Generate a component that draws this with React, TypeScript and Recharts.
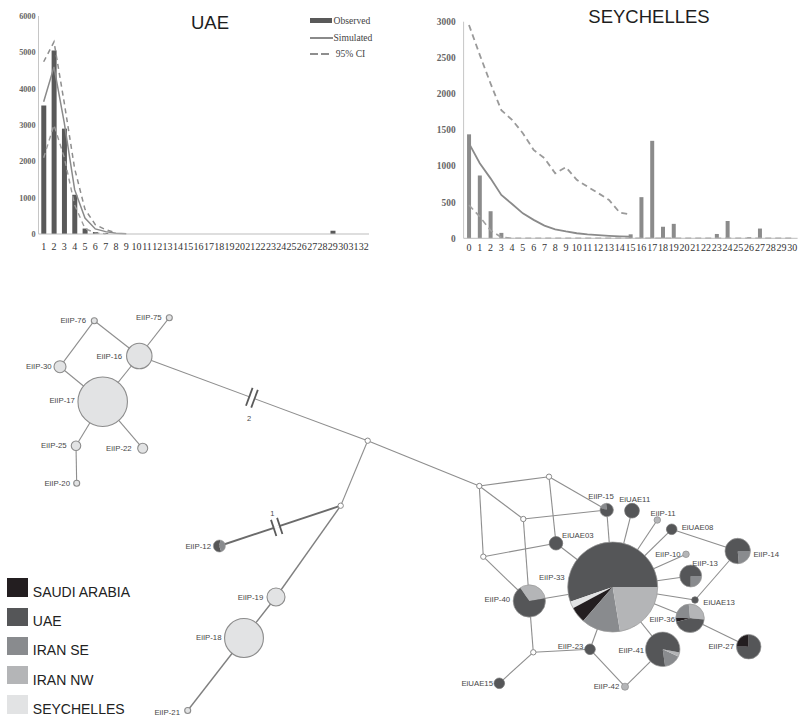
import React from 'react';
import { ComposedChart, Bar, Line, XAxis, YAxis, ScatterChart, Scatter, ZAxis, Sector } from 'recharts';

// ---------------- UAE mismatch distribution ----------------
const uaeCategories = ['1','2','3','4','5','6','7','8','9','10','11','12','13','14','15','16','17','18','19','20','21','22','23','24','25','26','27','28','29','30','31','32'];
const uaeObserved = [3540,5050,2900,1080,150,55,30,10,0,0,0,0,0,0,0,0,0,0,0,0,0,0,0,0,0,0,0,0,90,0,0,0];
const uaeSimulated = [3640,4600,3050,1220,440,140,65,20,5,null,null,null,null,null,null,null,null,null,null,null,null,null,null,null,null,null,null,null,null,null,null,null];
const uaeUpper = [4740,5290,3600,1800,680,260,120,30,null,null,null,null,null,null,null,null,null,null,null,null,null,null,null,null,null,null,null,null,null,null,null,null];
const uaeLower = [2100,3000,2100,800,150,30,5,null,null,null,null,null,null,null,null,null,null,null,null,null,null,null,null,null,null,null,null,null,null,null,null,null];
const uaeYTicks = [0,1000,2000,3000,4000,5000,6000];

// ---------------- Seychelles mismatch distribution ----------------
const seyCategories = ['0','1','2','3','4','5','6','7','8','9','10','11','12','13','14','15','16','17','18','19','20','21','22','23','24','25','26','27','28','29','30'];
const seyObserved = [1440,870,375,75,5,0,0,0,0,0,0,0,0,0,0,55,570,1350,160,200,0,0,0,60,240,0,15,135,0,0,0];
const seySimulated = [1315,1040,830,600,475,345,255,175,125,95,70,55,45,35,28,22,null,null,null,null,null,null,null,null,null,null,null,null,null,null,null];
const seyUpper = [2955,2540,2145,1775,1640,1455,1225,1110,900,985,810,715,625,530,355,330,null,null,null,null,null,null,null,null,null,null,null,null,null,null,null];
const seyLower = [460,300,110,15,0,0,0,0,0,0,0,0,0,0,0,0,0,0,0,0,0,0,0,0,0,0,0,0,0,0,0];
const seyYTicks = [0,500,1000,1500,2000,2500,3000];

// ---------------- Haplotype network ----------------
const populations = [
  { key: 'SA', name: 'SAUDI ARABIA', color: '#231e20' },
  { key: 'UAE', name: 'UAE', color: '#555658' },
  { key: 'SE', name: 'IRAN SE', color: '#898b8e' },
  { key: 'NW', name: 'IRAN NW', color: '#b4b5b7' },
  { key: 'SEY', name: 'SEYCHELLES', color: '#e2e3e4' },
];

type Hap = { id: string; x: number; y: number; n: number; start?: number; comp: [string, number][] };

// x, y: network layout coordinates; n: haplotype frequency; comp: share by population
const haplotypes: Hap[] = [
  { id: 'EiIP-76', x: 94.3, y: 320.7, n: 1, comp: [['SEY', 1]] },
  { id: 'EiIP-75', x: 169.3, y: 317.7, n: 1, comp: [['SEY', 1]] },
  { id: 'EiIP-16', x: 139.3, y: 356, n: 18, comp: [['SEY', 1]] },
  { id: 'EiIP-30', x: 60, y: 366.7, n: 4, comp: [['SEY', 1]] },
  { id: 'EiIP-17', x: 102.7, y: 401.7, n: 68, comp: [['SEY', 1]] },
  { id: 'EiIP-25', x: 76, y: 445.7, n: 2.5, comp: [['SEY', 1]] },
  { id: 'EiIP-22', x: 142.7, y: 448.3, n: 2.8, comp: [['SEY', 1]] },
  { id: 'EiIP-20', x: 76.7, y: 483.3, n: 1, comp: [['SEY', 1]] },
  { id: 'EiIP-19', x: 276, y: 597, n: 9, comp: [['SEY', 1]] },
  { id: 'EiIP-18', x: 244, y: 638, n: 42, comp: [['SEY', 1]] },
  { id: 'EiIP-21', x: 187.7, y: 710.5, n: 1, comp: [['SEY', 1]] },
  { id: 'mv1', x: 367.7, y: 440.7, n: 0.8, comp: [] },
  { id: 'mv2', x: 340.7, y: 505.7, n: 0.8, comp: [] },
  { id: 'mv3', x: 479.3, y: 486, n: 0.8, comp: [] },
  { id: 'mv4', x: 549, y: 476.7, n: 0.8, comp: [] },
  { id: 'mv5', x: 523.3, y: 519, n: 0.8, comp: [] },
  { id: 'mv6', x: 483.3, y: 556.7, n: 0.8, comp: [] },
  { id: 'mv7', x: 533.3, y: 652.3, n: 0.8, comp: [] },
  { id: 'EiIP-12', x: 219.3, y: 546, n: 4, start: 80, comp: [['UAE', 58], ['SE', 42]] },
  { id: 'EiIP-15', x: 606.7, y: 510, n: 5, start: 95, comp: [['SE', 18], ['UAE', 82]] },
  { id: 'EiUAE11', x: 632, y: 510.7, n: 6, comp: [['UAE', 1]] },
  { id: 'EiIP-11', x: 657.3, y: 520, n: 1.2, comp: [['NW', 1]] },
  { id: 'EiUAE08', x: 671.7, y: 529.3, n: 3.1, comp: [['UAE', 1]] },
  { id: 'EiUAE03', x: 556, y: 543.3, n: 5, comp: [['UAE', 1]] },
  { id: 'EiIP-10', x: 686, y: 554.3, n: 1.2, comp: [['NW', 1]] },
  { id: 'EiIP-14', x: 737.7, y: 551, n: 18, start: 275, comp: [['SE', 23.6], ['UAE', 76.4]] },
  { id: 'EiIP-13', x: 690.7, y: 576, n: 13.4, start: 270, comp: [['SE', 25], ['UAE', 75]] },
  { id: 'EiIP-33', x: 612.7, y: 587, n: 225, start: 0, comp: [['UAE', 55.3], ['SEY', 2.5], ['SA', 5.8], ['SE', 14], ['NW', 22.4]] },
  { id: 'EiIP-40', x: 529.3, y: 601, n: 29, start: 10, comp: [['NW', 31.7], ['UAE', 68.3]] },
  { id: 'EiUAE13', x: 695, y: 600, n: 1.2, comp: [['UAE', 1]] },
  { id: 'EiIP-36', x: 690, y: 618.3, n: 22.7, start: -5, comp: [['NW', 27.8], ['SE', 23], ['SA', 4.7], ['UAE', 44.5]] },
  { id: 'EiIP-27', x: 748.7, y: 646.7, n: 16.8, start: 90, comp: [['SA', 25], ['UAE', 75]] },
  { id: 'EiIP-23', x: 590, y: 649.3, n: 3.1, comp: [['UAE', 1]] },
  { id: 'EiIP-41', x: 662.7, y: 649.3, n: 33, start: 278, comp: [['SE', 15.8], ['NW', 3.9], ['UAE', 80.3]] },
  { id: 'EiUAE15', x: 499.3, y: 683.3, n: 3.1, comp: [['UAE', 1]] },
  { id: 'EiIP-42', x: 625, y: 686.7, n: 1.4, comp: [['NW', 1]] },
];

const links: [string, string][] = [
  ['EiIP-76', 'EiIP-30'], ['EiIP-76', 'EiIP-16'], ['EiIP-75', 'EiIP-16'], ['EiIP-16', 'EiIP-17'],
  ['EiIP-30', 'EiIP-17'], ['EiIP-17', 'EiIP-25'], ['EiIP-25', 'EiIP-20'], ['EiIP-17', 'EiIP-22'],
  ['EiIP-16', 'mv1'], ['mv1', 'mv3'], ['mv1', 'mv2'], ['mv2', 'EiIP-12'], ['mv2', 'EiIP-19'],
  ['EiIP-19', 'EiIP-18'], ['EiIP-18', 'EiIP-21'], ['mv3', 'mv4'], ['mv3', 'mv5'], ['mv3', 'mv6'],
  ['mv4', 'EiIP-15'], ['mv5', 'EiIP-15'], ['mv4', 'EiUAE03'], ['mv6', 'EiUAE03'], ['mv5', 'EiIP-40'],
  ['mv6', 'EiIP-40'], ['EiIP-40', 'EiIP-33'], ['EiIP-40', 'mv7'], ['mv7', 'EiUAE15'], ['mv7', 'EiIP-23'],
  ['EiIP-23', 'EiIP-33'], ['EiIP-23', 'EiIP-42'], ['EiIP-42', 'EiIP-41'], ['EiIP-41', 'EiIP-33'],
  ['EiIP-15', 'EiIP-33'], ['EiUAE11', 'EiIP-33'], ['EiIP-11', 'EiIP-33'], ['EiUAE08', 'EiIP-33'],
  ['EiUAE08', 'EiIP-14'], ['EiIP-10', 'EiIP-33'], ['EiIP-13', 'EiIP-33'], ['EiUAE13', 'EiIP-33'],
  ['EiUAE13', 'EiIP-14'], ['EiIP-36', 'EiIP-33'], ['EiIP-36', 'EiIP-27'], ['EiUAE03', 'EiIP-33'],
];

// mutation steps shown as breaks on long links
const mutationBreaks = [
  { link: ['EiIP-16', 'mv1'], t: 0.493, steps: '2' },
  { link: ['mv2', 'EiIP-12'], t: 0.527, steps: '1' },
];

// ---------------- layout / style (not data) ----------------
const labelPlacement: Record<string, [string, number, number]> = {
  'EiIP-76': ['l', -2.3, 0], 'EiIP-75': ['l', -1.6, 0], 'EiIP-16': ['l', -1.5, 0], 'EiIP-30': ['l', 0.7, 0],
  'EiIP-17': ['l', 0, -1.5], 'EiIP-25': ['l', -1.6, 0], 'EiIP-22': ['l', -3, 0], 'EiIP-20': ['l', -0.7, 0],
  'EiIP-12': ['l', 0.7, 0], 'EiIP-19': ['l', -0.7, 0], 'EiIP-18': ['l', 0, -1], 'EiIP-21': ['l', -1.7, 2],
  'EiIP-40': ['l', 0, -2], 'EiIP-33': ['l', 0, -10], 'EiUAE15': ['l', 2, 0], 'EiIP-42': ['l', 0.8, 0],
  'EiIP-41': ['l', 1.6, 0.7], 'EiIP-23': ['l', 1.6, -2.6], 'EiIP-36': ['l', 2.3, 1], 'EiIP-27': ['l', 0.6, -0.7],
  'EiIP-10': ['l', 1, 0], 'EiUAE08': ['r', 1.7, -2], 'EiIP-14': ['r', 0, 3], 'EiUAE13': ['r', 2, 2.3],
  'EiIP-15': ['t', -5.7, -4], 'EiUAE11': ['t', 2.7, -1], 'EiIP-11': ['t', 5.7, 0],
  'EiIP-13': ['tr', 1.6, 1.3], 'EiUAE03': ['tr', 6, 2.4],
};

const serif = "'Liberation Serif', 'DejaVu Serif', serif";
const sans = "'Liberation Sans', Arial, Helvetica, sans-serif";
const popColor: Record<string, string> = Object.fromEntries(populations.map((p) => [p.key, p.color]));

const uaeData = uaeCategories.map((c, i) => ({ cat: c, observed: uaeObserved[i], simulated: uaeSimulated[i], upper: uaeUpper[i], lower: uaeLower[i] }));
const seyData = seyCategories.map((c, i) => ({ cat: c, observed: seyObserved[i], simulated: seySimulated[i], upper: seyUpper[i], lower: seyLower[i] }));

const hapById: Record<string, Hap> = Object.fromEntries(haplotypes.map((h) => [h.id, h]));

function linkStyle(a: string, b: string) {
  if (a === 'mv2' && b === 'EiIP-12') return { stroke: '#6b6b6b', strokeWidth: 1.9 };
  if ((a === 'mv2' && b === 'EiIP-19') || (a === 'EiIP-19' && b === 'EiIP-18') || (a === 'EiIP-18' && b === 'EiIP-21'))
    return { stroke: '#808080', strokeWidth: 1.4 };
  return { stroke: '#8e8e8e', strokeWidth: 1.1 };
}

const breakData = mutationBreaks.map((m) => {
  const a = hapById[m.link[0]];
  const b = hapById[m.link[1]];
  const dx = b.x - a.x;
  const dy = b.y - a.y;
  const len = Math.sqrt(dx * dx + dy * dy);
  return { x: a.x + dx * m.t, y: a.y + dy * m.t, ux: dx / len, uy: dy / len, steps: m.steps };
});

function NodeShape(props: any) {
  const { cx, cy, payload } = props;
  if (cx == null || cy == null || !payload) return <g />;
  const size = typeof props.size === 'number' && isFinite(props.size) ? props.size : 64;
  const r = Math.sqrt(Math.max(size, 0) / Math.PI);
  const comp: [string, number][] = payload.comp || [];
  let body: React.ReactNode;
  if (comp.length === 0) {
    body = <circle cx={cx} cy={cy} r={r} fill="#ffffff" stroke="#8a8a8a" strokeWidth={1} />;
  } else if (comp.length === 1) {
    const k = comp[0][0];
    const stroke = k === 'SEY' ? '#8c8c8c' : k === 'NW' ? '#8c8c8c' : '#6e6e6e';
    body = <circle cx={cx} cy={cy} r={r} fill={popColor[k]} stroke={stroke} strokeWidth={k === 'SEY' ? 1.1 : 0.7} />;
  } else {
    const total = comp.reduce((s, c) => s + c[1], 0);
    let a = payload.start || 0;
    body = (
      <g>
        {comp.map(([k, v], i) => {
          const s = a;
          const e = a + (v / total) * 360;
          a = e;
          return <Sector key={i} cx={cx} cy={cy} innerRadius={0} outerRadius={r} startAngle={s} endAngle={e} fill={popColor[k]} stroke="none" />;
        })}
        <circle cx={cx} cy={cy} r={r} fill="none" stroke="#9a9a9a" strokeWidth={0.7} />
      </g>
    );
  }
  const place = labelPlacement[payload.id];
  let label: React.ReactNode = null;
  if (place) {
    const [side, ldx, ldy] = place;
    let x = cx, y = cy, anchor: any = 'middle';
    if (side === 'l') { x = cx - r - 3 + ldx; y = cy + ldy; anchor = 'end'; }
    else if (side === 'r') { x = cx + r + 3 + ldx; y = cy + ldy; anchor = 'start'; }
    else if (side === 't') { x = cx + ldx; y = cy - r - 3 + ldy; anchor = 'middle'; }
    else { x = cx + ldx; y = cy - r - 3 + ldy; anchor = 'start'; }
    label = (
      <text x={x} y={y} textAnchor={anchor} dominantBaseline="central" fontSize={7.8} fontFamily={sans} fill="#474747">
        {payload.id}
      </text>
    );
  }
  return <g>{body}{label}</g>;
}

function BreakShape(props: any) {
  const { cx, cy, payload } = props;
  if (cx == null || !payload) return <g />;
  const { ux, uy, steps } = payload;
  const nx = -uy, ny = ux;
  const half = steps === '2' ? 9.5 : 8.5;
  const sep = steps === '2' ? 2.8 : 3.2;
  const marks = [-1, 1].map((s) => {
    const mx = cx + ux * sep * s;
    const my = cy + uy * sep * s;
    return <line key={s} x1={mx - nx * half} y1={my - ny * half} x2={mx + nx * half} y2={my + ny * half} stroke="#5a5a5a" strokeWidth={1.8} />;
  });
  const lx = steps === '2' ? cx - 2.7 : cx - 4.4;
  const ly = steps === '2' ? cy + 20.3 : cy - 13.5;
  return (
    <g>
      <line x1={cx - ux * sep} y1={cy - uy * sep} x2={cx + ux * sep} y2={cy + uy * sep} stroke="#ffffff" strokeWidth={2.5} />
      {marks}
      <text x={lx} y={ly} textAnchor="middle" dominantBaseline="central" fontSize={7.5} fontFamily={sans} fill="#4a4a4a">{steps}</text>
    </g>
  );
}

const emptyShape = () => <g />;

export default function App() {
  const tickX = { fontSize: 10, fill: '#333', fontFamily: serif };
  return (
    <div style={{ position: 'absolute', left: 0, top: 0, width: 802, height: 719, background: '#fff', overflow: 'hidden' }}>
      {/* UAE chart */}
      <div style={{ position: 'absolute', left: 0, top: 0 }}>
        <ComposedChart width={400} height={260} data={uaeData} margin={{ top: 16, right: 31, bottom: 6, left: 0 }} barCategoryGap="27%">
          <XAxis dataKey="cat" interval={0} tickLine={false} tickSize={0} tickMargin={9} height={20} axisLine={{ stroke: '#bdbdbd' }} tick={tickX} />
          <YAxis type="number" domain={[0, 6000]} ticks={uaeYTicks} width={38.5} tickLine={false} tickSize={0} tickMargin={3} axisLine={{ stroke: '#c6c6c6' }} tick={{ fontSize: 8.2, fill: '#666', fontFamily: serif, fontWeight: 700 }} />
          <Bar dataKey="observed" fill="#595959" isAnimationActive={false} />
          <Line dataKey="lower" stroke="#9c9c9c" strokeWidth={1.4} strokeDasharray="5 4" dot={false} isAnimationActive={false} />
          <Line dataKey="upper" stroke="#8e8e8e" strokeWidth={1.5} strokeDasharray="5 4" dot={false} isAnimationActive={false} />
          <Line dataKey="simulated" stroke="#8a8a8a" strokeWidth={1.5} dot={false} isAnimationActive={false} />
        </ComposedChart>
      </div>
      <div style={{ position: 'absolute', left: 160, width: 100, top: 13.5, textAlign: 'center', fontFamily: sans, fontSize: 18.5, lineHeight: '18.5px', color: '#1e1e1e' }}>UAE</div>
      {/* UAE legend */}
      <div style={{ position: 'absolute', left: 310, top: 17.5, width: 22, height: 5, background: '#595959' }} />
      <div style={{ position: 'absolute', left: 310, top: 37, width: 23, height: 1.5, background: '#8a8a8a' }} />
      <div style={{ position: 'absolute', left: 310, top: 53.3, width: 8, height: 1.5, background: '#8e8e8e' }} />
      <div style={{ position: 'absolute', left: 321, top: 53.3, width: 8, height: 1.5, background: '#8e8e8e' }} />
      <div style={{ position: 'absolute', left: 333.5, top: 15.6, fontFamily: serif, fontSize: 9.6, lineHeight: '9.6px', color: '#444', whiteSpace: 'nowrap' }}>Observed</div>
      <div style={{ position: 'absolute', left: 333.5, top: 32.6, fontFamily: serif, fontSize: 9.6, lineHeight: '9.6px', color: '#444', whiteSpace: 'nowrap' }}>Simulated</div>
      <div style={{ position: 'absolute', left: 335.7, top: 49.2, fontFamily: serif, fontSize: 9.6, lineHeight: '9.6px', color: '#444', whiteSpace: 'nowrap' }}>95% CI</div>

      {/* Seychelles chart */}
      <div style={{ position: 'absolute', left: 400, top: 0 }}>
        <ComposedChart width={402} height={260} data={seyData} margin={{ top: 21.7, right: 4.4, bottom: 5.7, left: 0 }} barCategoryGap="32%">
          <XAxis dataKey="cat" interval={0} tickLine={false} tickSize={0} tickMargin={6} height={16} axisLine={{ stroke: '#bdbdbd' }} tick={tickX} />
          <YAxis type="number" domain={[0, 3000]} ticks={seyYTicks} width={63.6} tickLine={false} tickSize={0} tickMargin={8} axisLine={{ stroke: '#c6c6c6' }} tick={{ fontSize: 9.4, fill: '#666', fontFamily: serif, fontWeight: 700 }} />
          <Bar dataKey="observed" fill="#8b8b8b" isAnimationActive={false} />
          <Line dataKey="lower" stroke="#a0a0a0" strokeWidth={1.6} strokeDasharray="6 4" dot={false} isAnimationActive={false} />
          <Line dataKey="upper" stroke="#9a9a9a" strokeWidth={1.8} strokeDasharray="6 4" dot={false} isAnimationActive={false} />
          <Line dataKey="simulated" stroke="#8a8a8a" strokeWidth={1.8} dot={false} isAnimationActive={false} />
        </ComposedChart>
      </div>
      <div style={{ position: 'absolute', left: 549, width: 200, top: 8, textAlign: 'center', fontFamily: sans, fontSize: 18.5, lineHeight: '18.5px', color: '#1e1e1e' }}>SEYCHELLES</div>

      {/* Haplotype network */}
      <div style={{ position: 'absolute', left: 0, top: 0 }}>
        <ScatterChart width={802} height={719} margin={{ top: 0, right: 0, bottom: 0, left: 0 }}>
          <XAxis type="number" dataKey="x" domain={[0, 802]} allowDataOverflow hide />
          <YAxis type="number" dataKey="y" domain={[0, 719]} allowDataOverflow reversed hide />
          <ZAxis type="number" dataKey="n" domain={[0, 225]} range={[0, Math.PI * 45 * 45]} />
          {links.map(([a, b], i) => (
            <Scatter
              key={'l' + i}
              data={[{ x: hapById[a].x, y: hapById[a].y }, { x: hapById[b].x, y: hapById[b].y }]}
              line={linkStyle(a, b)}
              shape={emptyShape}
              isAnimationActive={false}
            />
          ))}
          <Scatter data={breakData} shape={(p: any) => <BreakShape {...p} />} isAnimationActive={false} />
          <Scatter data={haplotypes} shape={(p: any) => <NodeShape {...p} />} isAnimationActive={false} />
        </ScatterChart>
      </div>

      {/* Population legend */}
      {populations.map((p, i) => {
        const top = 578.3 + i * 29.2;
        return (
          <React.Fragment key={p.key}>
            <div style={{ position: 'absolute', left: 6.7, top, width: 21.6, height: 18.5, background: p.color }} />
            <div style={{ position: 'absolute', left: 32.8, top: top + 18.5 - 11.85, fontFamily: sans, fontSize: 14, lineHeight: '14px', color: '#222', whiteSpace: 'nowrap' }}>{p.name}</div>
          </React.Fragment>
        );
      })}
    </div>
  );
}
